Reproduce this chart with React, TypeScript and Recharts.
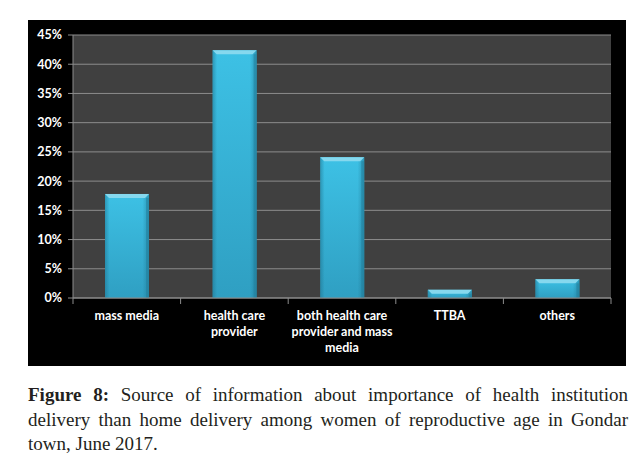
import React from 'react';
import { BarChart, Bar, XAxis, YAxis, CartesianGrid } from 'recharts';

// values (percent of respondents)
const categories = ['mass media', 'health care\nprovider', 'both health care\nprovider and mass\nmedia', 'TTBA', 'others'];
const percents = [17.8, 42.4, 24.1, 1.4, 3.2];
const yTicks = [0, 5, 10, 15, 20, 25, 30, 35, 40, 45];

const captionLines = [
    'Source of information about importance of health institution',
    'delivery than home delivery among women of reproductive age in Gondar',
    'town, June 2017.',
];

const data = categories.map((name, i) => ({ name, value: percents[i] }));

const CHART_W = 598;
const CHART_H = 346;
const X_HEIGHT = 68;
const MARGIN = { top: 15, right: 15, bottom: 0, left: 0 };
const Y_WIDTH = 45;
const HALF_BAND = (CHART_W - MARGIN.right - Y_WIDTH) / categories.length / 2;

const labelFont = 'Lato, "Liberation Sans", sans-serif';

const XTick = (props: any) => {
    const { x, y, payload, index } = props;
    const lines = String(payload.value).split('\n');
    return (
        <g>
            <line x1={x - HALF_BAND} y1={y - 8} x2={x - HALF_BAND} y2={y - 2} stroke="#8c8c8c" />
            {index === categories.length - 1 && (
                <line x1={x + HALF_BAND} y1={y - 8} x2={x + HALF_BAND} y2={y - 2} stroke="#8c8c8c" />
            )}
            <text x={x} y={y + 14} textAnchor="middle" fill="#ffffff" fontSize={12.5} fontWeight="bold" fontFamily={labelFont}>
                {lines.map((l, i) => (
                    <tspan key={i} x={x} dy={i === 0 ? 0 : 16}>{l}</tspan>
                ))}
            </text>
        </g>
    );
};

const GlossyBar = (props: any) => {
    const { x, y, width, height } = props;
    if (!height || height <= 0) return null;
    const bevel = Math.min(4, height / 2);
    return (
        <g>
            <rect x={x} y={y} width={width} height={height} fill="url(#barBody)" />
            <rect x={x} y={y} width={width} height={height} fill="url(#barEdges)" />
            <polygon
                points={`${x},${y} ${x + width},${y} ${x + width - bevel},${y + bevel} ${x + bevel},${y + bevel}`}
                fill="#86d8ee"
            />
            <rect x={x + width - 3} y={y + bevel} width={3} height={height - bevel} fill="#237f9c" opacity={0.55} />
        </g>
    );
};

export default function App() {
    return (
        <div style={{ position: 'absolute', left: 0, top: 0, width: 641, height: 468, background: '#ffffff' }}>
            <div style={{ position: 'absolute', left: 28, top: 20, width: CHART_W, height: CHART_H, background: '#000000' }}>
                <BarChart width={CHART_W} height={CHART_H} data={data} margin={MARGIN} barSize={44}>
                    <defs>
                        <linearGradient id="barBody" x1="0" y1="0" x2="0" y2="1">
                            <stop offset="0%" stopColor="#3dc1e5" />
                            <stop offset="100%" stopColor="#2f9fc2" />
                        </linearGradient>
                        <linearGradient id="barEdges" x1="0" y1="0" x2="1" y2="0">
                            <stop offset="0%" stopColor="#1d6f8a" stopOpacity={0.5} />
                            <stop offset="10%" stopColor="#1d6f8a" stopOpacity={0} />
                            <stop offset="85%" stopColor="#1d6f8a" stopOpacity={0} />
                            <stop offset="100%" stopColor="#1d6f8a" stopOpacity={0.5} />
                        </linearGradient>
                    </defs>
                    <CartesianGrid vertical={false} stroke="#8c8c8c" fill="#404040" />
                    <XAxis
                        dataKey="name"
                        axisLine={{ stroke: '#8c8c8c' }}
                        tickLine={false}
                        tick={<XTick />}
                        interval={0}
                        height={X_HEIGHT}
                    />
                    <YAxis
                        width={Y_WIDTH}
                        domain={[0, 45]}
                        ticks={yTicks}
                        tickFormatter={(v: number) => `${v}%`}
                        axisLine={{ stroke: '#8c8c8c' }}
                        tickLine={{ stroke: '#8c8c8c' }}
                        tickSize={5}
                        tickMargin={6}
                        tick={{ fill: '#ffffff', fontSize: 12.5, fontWeight: 'bold', fontFamily: labelFont }}
                    />
                    <Bar dataKey="value" shape={<GlossyBar />} isAnimationActive={false} />
                </BarChart>
            </div>
            <div
                style={{
                    position: 'absolute',
                    left: 28,
                    top: 383,
                    width: 600,
                    fontFamily: '"Liberation Serif", serif',
                    fontSize: 19,
                    lineHeight: '24.5px',
                    color: '#231f20',
                }}
            >
                {captionLines.map((line, i) => (
                    <div
                        key={i}
                        style={{
                            textAlign: 'justify',
                            textAlignLast: i < captionLines.length - 1 ? 'justify' : 'left',
                            whiteSpace: 'nowrap',
                        }}
                    >
                        {i === 0 && <b>Figure 8: </b>}
                        {line}
                    </div>
                ))}
            </div>
        </div>
    );
}
